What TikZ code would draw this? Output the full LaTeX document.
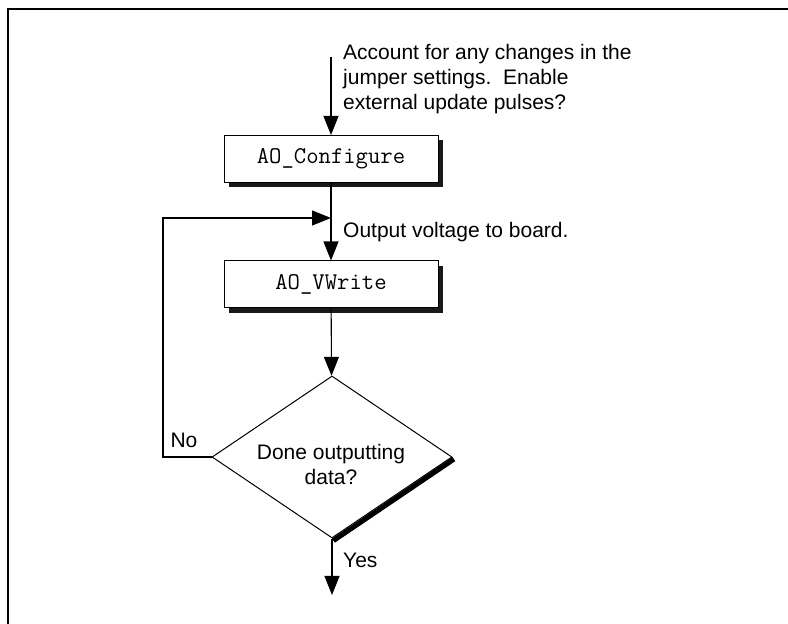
\documentclass[tikz,border=0pt]{standalone}
\usepackage{fontspec}
\setmainfont{Liberation Sans}
\usetikzlibrary{positioning}
\usetikzlibrary{arrows.meta}
\usetikzlibrary{shapes.geometric}
\usetikzlibrary{shadows}
\tikzstyle{every link} = [line width=1.1pt]
\tikzstyle{link} = [-{Triangle[length=19pt,width=15pt]}, draw, every link]

\begin{document}
\begin{tikzpicture}[
		x=1pt, y=1pt,
		every node/.style = {font=\fontsize{21}{25}\selectfont},
		func/.style = {
			draw, line width=1pt, fill=white,
			minimum width=214pt, minimum height=47pt,
			font=\fontsize{24}{25}\ttfamily,
			drop shadow={shadow xshift=5pt, shadow yshift=-5pt, fill=black!90, opacity=1}
		},
		decide/.style = {
			diamond, draw, line width=1pt, aspect=1.48,
			minimum width=240pt, minimum height=162pt,
			inner sep=0pt, align=center
		},
		note/.style = {anchor=west, align=left, inner sep=0pt}
	]
	\useasboundingbox (0,0) rectangle (788,624);
	% page frame
	\draw[line width=2pt] (8,0) -- (8,615) -- (788,615);

	\node [func] (config) at (331,465) {AO\_Configure};
	\node [func] (vwrite) at (331,339.5) {AO\_VWrite};
	\node [decide] (done) at (332,167) {};
	\node [align=center, inner sep=0pt] (ask) at (331,160) {Done outputting\\data?};
	\draw[line width=5pt] ([shift={(1.4,-2.1)}]done.east) -- ([shift={(1.4,-2.1)}]done.south);

	\coordinate (start) at (331,567);
	\coordinate (join) at (331,406);
	\coordinate (corner) at (163,406);
	\coordinate (stop) at (332,29);

	\draw[link] (start) -- (config);
	\draw[link] (config) -- (vwrite);
	\draw[link] (vwrite) -- (done);
	\draw[link] (done) -- (stop);
	\draw[link] (done.west) -- (done.west -| corner) -- (corner) -- (join);

	\node [note] (account) at (343,545) {Account for any changes in the\\jumper settings.\ \ Enable\\external update pulses?};
	\node [note] (output) at (343,392) {Output voltage to board.};
	\node [note] (yes) at (343,64) {Yes};
	\node [inner sep=0pt] (no) at (184,184) {No};
\end{tikzpicture}
\end{document}
